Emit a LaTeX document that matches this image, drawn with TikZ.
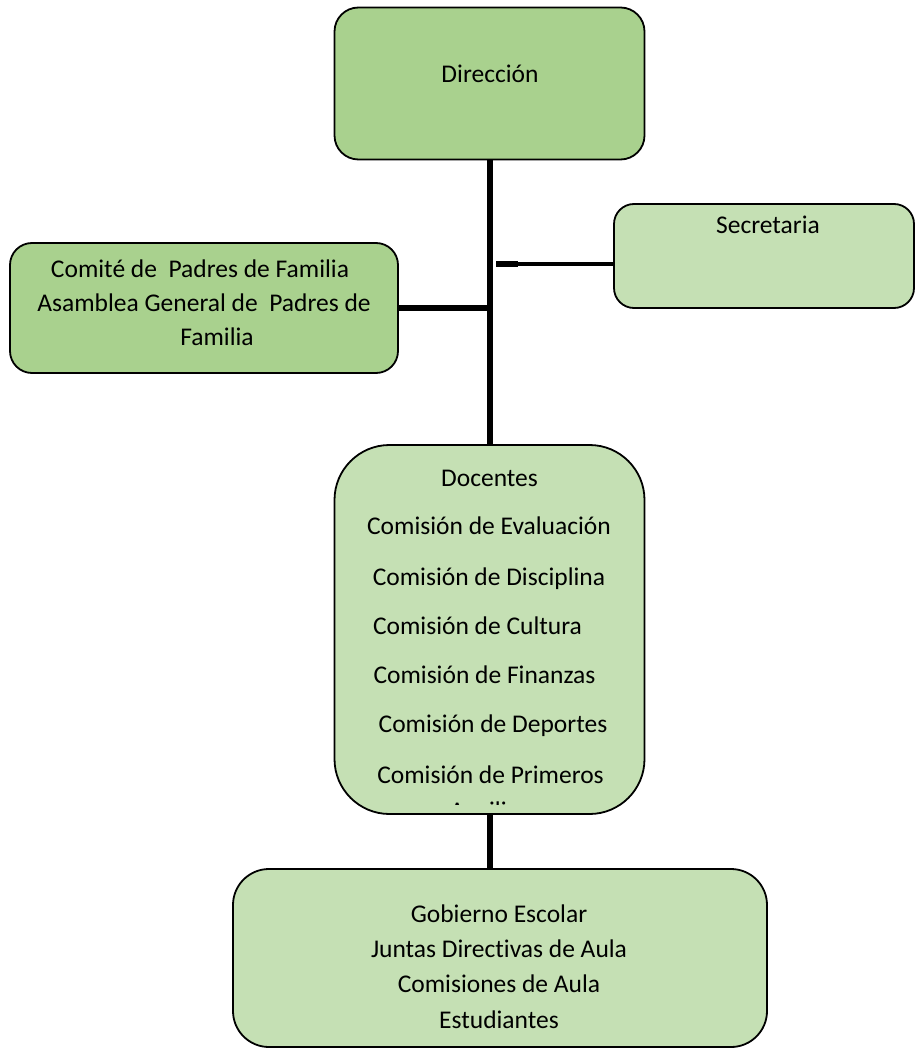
\documentclass[tikz,border=0pt]{standalone}
\usepackage{fontspec}
\setmainfont[Ligatures=CommonOff]{Carlito}
\definecolor{gdark}{HTML}{A9D18E}
\definecolor{glight}{HTML}{C5E0B4}
\begin{document}
\begin{tikzpicture}[x=1pt,y=-1pt,
  box/.style={draw=black,line width=1.8pt,rectangle,inner sep=0pt},
  txt/.style={anchor=base,inner sep=0pt,font=\fontsize{25.5pt}{30pt}\selectfont},
  conn/.style={line width=5.5pt,black}]
\useasboundingbox (0,0) rectangle (915,1048);
% boxes
\node[box,fill=gdark,rounded corners=24pt,minimum width=310pt,minimum height=152pt] (dir) at (489.5,83.5) {};
\node[box,fill=glight,rounded corners=20pt,minimum width=300pt,minimum height=104pt] (sec) at (764,256) {};
\node[box,fill=gdark,rounded corners=22pt,minimum width=388pt,minimum height=130pt] (com) at (204,308) {};
\node[box,fill=glight,rounded corners=55pt,minimum width=310pt,minimum height=369pt] (doc) at (489.5,629.5) {};
\node[box,fill=glight,rounded corners=36pt,minimum width=534pt,minimum height=178pt] (gob) at (500,958) {};
% connectors
\coordinate (sa) at (496,264);
\coordinate (sb) at (518,264);
\draw[conn] (dir.south -| 490,0) -- (doc.north -| 490,0);
\draw[conn] (com.east) -- (com.east -| 490,0);
\draw[line width=4.5pt] (sa) -- (sa -| sec.west);
\draw[line width=6.5pt] (sa) -- (sb);
\draw[conn] (doc.south -| 490,0) -- (gob.north -| 490,0);
% texts
\node[txt] (tdir) at (490,83) {Dirección};
\node[txt] (tsec) at (768,234) {Secretaria};
\node[txt] (tc1) at (200,277) {Comité de\ \ Padres de Familia};
\node[txt] (tc2) at (204,311) {Asamblea General de\ \ Padres de};
\node[txt] (tc3) at (217,345) {Familia};
\node[txt] (td1) at (489.5,486.5) {Docentes};
\node[txt] (td2) at (489,534.5) {Comisión de Evaluación};
\node[txt] (td3) at (489,585.5) {Comisión de Disciplina};
\node[txt] (td4) at (477.5,634.5) {Comisión de Cultura};
\node[txt] (td5) at (484.5,683.5) {Comisión de Finanzas};
\node[txt] (td6) at (493,732.5) {Comisión de Deportes};
\node[txt] (td7) at (490.5,783) {Comisión de Primeros};
\begin{scope}
\clip (334,790) rectangle (644,804.5);
\node[txt] (td8) at (490,819.5) {Auxilios};
\end{scope}
\node[txt] (tg1) at (499,922.5) {Gobierno Escolar};
\node[txt] (tg2) at (499,957) {Juntas Directivas de Aula};
\node[txt] (tg3) at (499,992) {Comisiones de Aula};
\node[txt] (tg4) at (499,1028) {Estudiantes};
\end{tikzpicture}
\end{document}
